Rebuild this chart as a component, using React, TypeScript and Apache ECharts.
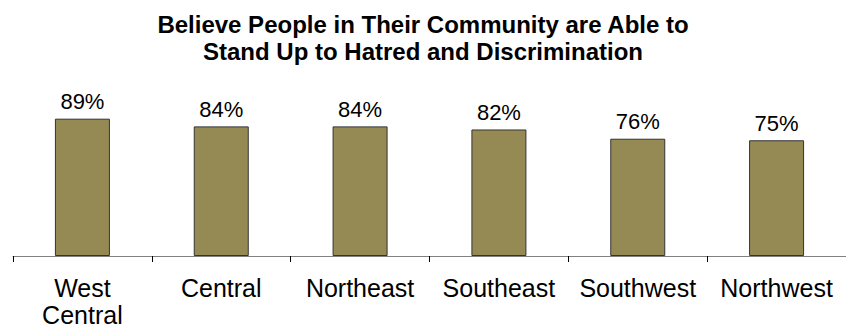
import React, { useEffect, useRef } from "react";
import * as echarts from "echarts";

const titleLines = [
  "Believe People in Their Community are Able to",
  "Stand Up to Hatred and Discrimination",
];
const categories = ["West\nCentral", "Central", "Northeast", "Southeast", "Southwest", "Northwest"];
const values = [89, 84, 84, 82, 76, 75];

export default function App() {
  const ref = useRef<HTMLDivElement>(null);
  useEffect(() => {
    if (!ref.current) return;
    const chart = echarts.init(ref.current, undefined, { renderer: "svg" });
    chart.setOption({
      animation: false,
      backgroundColor: "#ffffff",
      title: {
        text: titleLines.join("\n"),
        left: 418,
        top: 6,
        textAlign: "center",
        textStyle: {
          fontFamily: "Liberation Sans",
          fontWeight: "bold",
          fontSize: 24,
          lineHeight: 27,
          color: "#000000",
        },
      },
      grid: { left: 13, top: 101.7, width: 840, height: 154.3 },
      xAxis: {
        type: "category",
        data: categories,
        axisLine: { lineStyle: { color: "#808080", width: 1 } },
        axisTick: { show: true, length: 6, lineStyle: { color: "#000000" } },
        axisLabel: {
          interval: 0,
          margin: 18,
          fontFamily: "Liberation Sans",
          fontSize: 25,
          lineHeight: 27,
          color: "#000000",
        },
      },
      yAxis: {
        type: "value",
        min: 0,
        max: 100,
        show: false,
        splitLine: { show: false },
      },
      series: [
        {
          type: "bar",
          data: values,
          barWidth: 55,
          itemStyle: { color: "#968A54", borderColor: "#333333", borderWidth: 1 },
          label: {
            show: true,
            position: "top",
            distance: 6,
            formatter: "{c}%",
            fontFamily: "Liberation Sans",
            fontSize: 22,
            color: "#000000",
          },
        },
      ],
    });
    return () => chart.dispose();
  }, []);
  return (
    <div
      ref={ref}
      style={{ position: "absolute", left: 0, top: 0, width: 846, height: 331 }}
    />
  );
}
